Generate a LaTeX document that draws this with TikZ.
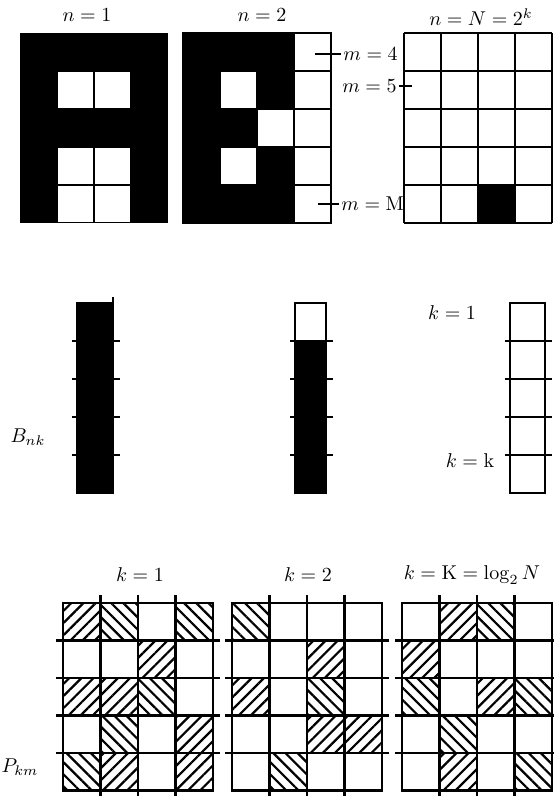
\documentclass[tikz,border=0pt]{standalone}
\usetikzlibrary{patterns.meta}
\tikzset{
    gitter/.style={line width=1.4pt},
    marke/.style={line width=1.3pt},
    schraffur/.style={pattern={Lines[angle=#1,distance=4.3pt,line width=1.1pt]}},
    beschr/.style={font=\fontsize{10}{11}\selectfont, inner sep=1pt},
}
\begin{document}
\begin{tikzpicture}[x=0.5pt,y=-0.5pt]
    \useasboundingbox (0,0) rectangle (553,796);

    %Raster oben, n=1
    \fill (20,33) rectangle (168,223);
    \foreach \c/\r in {2/2,3/2,2/4,3/4,2/5,3/5} {
        \fill[white] ({20+37*(\c-1)+1.2},{33+38*(\r-1)+1.2}) rectangle ++(34.6,35.6);
    }
    \node[beschr] (n1) at (87,15) {$n=1$};

    %Raster oben, n=2
    \fill (183,33) rectangle (294,223);
    \foreach \c/\r in {2/2,3/3,2/4} {
        \fill[white] ({183+37*(\c-1)+1.2},{33+38*(\r-1)+1.2}) rectangle ++(34.6,35.6);
    }
    \foreach \r in {1,...,5} {
        \draw[gitter] (294,{33+38*(\r-1)}) rectangle ++(37,38);
    }
    \draw[gitter] (183,33) rectangle (331,223);
    \node[beschr] (n2) at (262,15) {$n=2$};

    %Raster oben, n=N
    \fill (478,185) rectangle (515,223);
    \foreach \i in {0,...,4} \draw[gitter] ({404+37*\i},33) -- ++(0,190);
    \foreach \i in {0,...,5} \draw[gitter] (404,{33+38*\i}) -- ++(148,0);
    \node[beschr] (nN) at (481,17) {$n=N=2^k$};

    %Zeilen m
    \node[beschr, anchor=west] (m4) at (341,54) {$m=4$};
    \coordinate (m4e) at (315,54);
    \draw[marke] (m4e) -- (m4.west);
    \node[beschr, anchor=east] (m5) at (399,86) {$m=5$};
    \coordinate (m5e) at (412,86);
    \draw[marke] (m5.east) -- (m5e);
    \node[beschr, anchor=west] (mM) at (339,204) {$m=\mathrm{M}$};
    \coordinate (mMe) at (318,204);
    \draw[marke] (mMe) -- (mM.west);

    %Spalten B_nk
    \fill (77,303) rectangle (113,493);
    \fill (295,341) rectangle (326,493);
    \foreach \x/\w in {77/36,295/31,510/35} {
        \draw[gitter] (\x,303) rectangle ++(\w,190);
        \foreach \i in {1,...,4} \draw[marke] ({\x-5},{303+38*\i}) -- ++({\w+12},0);
    }
    \draw[gitter] (113,303) -- (113,297);
    \node[beschr] (Bnk) at (28,437) {$B_{nk}$};
    \node[beschr] (k1) at (452,313) {$k=1$};
    \node[beschr] (kk) at (470,461) {$k=\mathrm{k}$};

    %Raster unten, Schraffur
    \foreach \c/\r/\a in {1/1/45,2/1/-45,4/1/-45,3/2/45,1/3/45,2/3/45,3/3/-45,2/4/-45,4/4/45,1/5/-45,2/5/45,4/5/45} {
        \fill[schraffur=\a] ({63+37.5*(\c-1)},{603+37.5*(\r-1)}) rectangle ++(37.5,37.5);
    }%k=1
    \foreach \c/\r/\a in {1/1/-45,3/2/45,1/3/45,3/3/-45,3/4/45,4/4/45,2/5/-45} {
        \fill[schraffur=\a] ({232+37.5*(\c-1)},{603+37.5*(\r-1)}) rectangle ++(37.5,37.5);
    }%k=2
    \foreach \c/\r/\a in {2/1/45,3/1/-45,1/2/45,1/3/-45,3/3/45,4/3/-45,2/4/-45,2/5/45,4/5/-45} {
        \fill[schraffur=\a] ({402+37.5*(\c-1)},{603+37.5*(\r-1)}) rectangle ++(37.5,37.5);
    }%k=K

    %Raster unten, Linien
    \foreach \x in {63,232,402} {
        \foreach \i in {1,2,3} \draw[gitter] ({\x+37.5*\i},595) -- ++(0,202);
        \foreach \i in {1,...,4} \draw[gitter] ({\x-7},{603+37.5*\i}) -- ++(164,0);
        \draw[gitter] (\x,603) rectangle ++(150,187.5);
    }
    \node[beschr] (k1u) at (140,575) {$k=1$};
    \node[beschr] (k2u) at (308,575) {$k=2$};
    \node[beschr] (kKu) at (472,575) {$k=\mathrm{K}=\log_2 N$};
    \node[beschr] (Pkm) at (20,767) {$P_{km}$};
\end{tikzpicture}
\end{document}
